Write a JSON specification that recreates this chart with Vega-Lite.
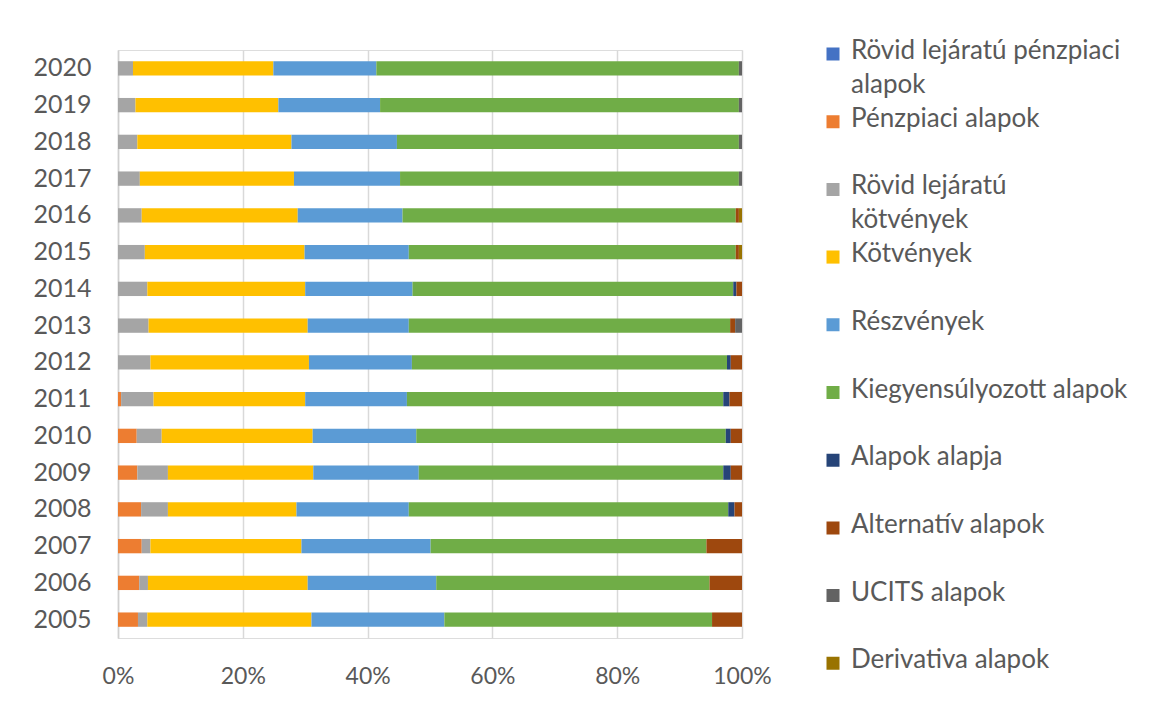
{
  "$schema": "https://vega.github.io/schema/vega-lite/v6.json",
  "width": 624,
  "height": 588,
  "autosize": {"type": "none"},
  "padding": {"left": 118, "top": 50, "right": 419, "bottom": 66},
  "background": "white",
  "data": {"values": [
    {"year": "2020", "cat": "Rövid lejáratú kötvények", "v": 2.4},
    {"year": "2020", "cat": "Kötvények", "v": 22.5},
    {"year": "2020", "cat": "Részvények", "v": 16.5},
    {"year": "2020", "cat": "Kiegyensúlyozott alapok", "v": 58.1},
    {"year": "2020", "cat": "UCITS alapok", "v": 0.5},
    {"year": "2019", "cat": "Rövid lejáratú kötvények", "v": 2.8},
    {"year": "2019", "cat": "Kötvények", "v": 22.9},
    {"year": "2019", "cat": "Részvények", "v": 16.3},
    {"year": "2019", "cat": "Kiegyensúlyozott alapok", "v": 57.5},
    {"year": "2019", "cat": "UCITS alapok", "v": 0.5},
    {"year": "2018", "cat": "Rövid lejáratú kötvények", "v": 3.1},
    {"year": "2018", "cat": "Kötvények", "v": 24.7},
    {"year": "2018", "cat": "Részvények", "v": 16.9},
    {"year": "2018", "cat": "Kiegyensúlyozott alapok", "v": 54.8},
    {"year": "2018", "cat": "UCITS alapok", "v": 0.5},
    {"year": "2017", "cat": "Rövid lejáratú kötvények", "v": 3.5},
    {"year": "2017", "cat": "Kötvények", "v": 24.7},
    {"year": "2017", "cat": "Részvények", "v": 17.0},
    {"year": "2017", "cat": "Kiegyensúlyozott alapok", "v": 54.3},
    {"year": "2017", "cat": "UCITS alapok", "v": 0.5},
    {"year": "2016", "cat": "Rövid lejáratú kötvények", "v": 3.8},
    {"year": "2016", "cat": "Kötvények", "v": 25.0},
    {"year": "2016", "cat": "Részvények", "v": 16.8},
    {"year": "2016", "cat": "Kiegyensúlyozott alapok", "v": 53.4},
    {"year": "2016", "cat": "Alternatív alapok", "v": 0.5},
    {"year": "2016", "cat": "Derivativa alapok", "v": 0.5},
    {"year": "2015", "cat": "Rövid lejáratú kötvények", "v": 4.3},
    {"year": "2015", "cat": "Kötvények", "v": 25.6},
    {"year": "2015", "cat": "Részvények", "v": 16.7},
    {"year": "2015", "cat": "Kiegyensúlyozott alapok", "v": 52.4},
    {"year": "2015", "cat": "Alternatív alapok", "v": 0.5},
    {"year": "2015", "cat": "Derivativa alapok", "v": 0.5},
    {"year": "2014", "cat": "Rövid lejáratú kötvények", "v": 4.7},
    {"year": "2014", "cat": "Kötvények", "v": 25.3},
    {"year": "2014", "cat": "Részvények", "v": 17.2},
    {"year": "2014", "cat": "Kiegyensúlyozott alapok", "v": 51.4},
    {"year": "2014", "cat": "Alapok alapja", "v": 0.5},
    {"year": "2014", "cat": "Alternatív alapok", "v": 0.9},
    {"year": "2013", "cat": "Rövid lejáratú kötvények", "v": 4.9},
    {"year": "2013", "cat": "Kötvények", "v": 25.5},
    {"year": "2013", "cat": "Részvények", "v": 16.2},
    {"year": "2013", "cat": "Kiegyensúlyozott alapok", "v": 51.5},
    {"year": "2013", "cat": "Alternatív alapok", "v": 0.8},
    {"year": "2013", "cat": "UCITS alapok", "v": 1.1},
    {"year": "2012", "cat": "Rövid lejáratú kötvények", "v": 5.2},
    {"year": "2012", "cat": "Kötvények", "v": 25.4},
    {"year": "2012", "cat": "Részvények", "v": 16.5},
    {"year": "2012", "cat": "Kiegyensúlyozott alapok", "v": 50.5},
    {"year": "2012", "cat": "Alapok alapja", "v": 0.6},
    {"year": "2012", "cat": "Alternatív alapok", "v": 1.8},
    {"year": "2011", "cat": "Pénzpiaci alapok", "v": 0.5},
    {"year": "2011", "cat": "Rövid lejáratú kötvények", "v": 5.2},
    {"year": "2011", "cat": "Kötvények", "v": 24.3},
    {"year": "2011", "cat": "Részvények", "v": 16.3},
    {"year": "2011", "cat": "Kiegyensúlyozott alapok", "v": 50.7},
    {"year": "2011", "cat": "Alapok alapja", "v": 1.0},
    {"year": "2011", "cat": "Alternatív alapok", "v": 2.0},
    {"year": "2010", "cat": "Pénzpiaci alapok", "v": 3.0},
    {"year": "2010", "cat": "Rövid lejáratú kötvények", "v": 4.0},
    {"year": "2010", "cat": "Kötvények", "v": 24.2},
    {"year": "2010", "cat": "Részvények", "v": 16.6},
    {"year": "2010", "cat": "Kiegyensúlyozott alapok", "v": 49.6},
    {"year": "2010", "cat": "Alapok alapja", "v": 0.8},
    {"year": "2010", "cat": "Alternatív alapok", "v": 1.8},
    {"year": "2009", "cat": "Pénzpiaci alapok", "v": 3.1},
    {"year": "2009", "cat": "Rövid lejáratú kötvények", "v": 4.9},
    {"year": "2009", "cat": "Kötvények", "v": 23.3},
    {"year": "2009", "cat": "Részvények", "v": 16.9},
    {"year": "2009", "cat": "Kiegyensúlyozott alapok", "v": 48.8},
    {"year": "2009", "cat": "Alapok alapja", "v": 1.2},
    {"year": "2009", "cat": "Alternatív alapok", "v": 1.8},
    {"year": "2008", "cat": "Pénzpiaci alapok", "v": 3.7},
    {"year": "2008", "cat": "Rövid lejáratú kötvények", "v": 4.3},
    {"year": "2008", "cat": "Kötvények", "v": 20.6},
    {"year": "2008", "cat": "Részvények", "v": 18.0},
    {"year": "2008", "cat": "Kiegyensúlyozott alapok", "v": 51.2},
    {"year": "2008", "cat": "Alapok alapja", "v": 1.0},
    {"year": "2008", "cat": "Alternatív alapok", "v": 1.2},
    {"year": "2007", "cat": "Pénzpiaci alapok", "v": 3.8},
    {"year": "2007", "cat": "Rövid lejáratú kötvények", "v": 1.4},
    {"year": "2007", "cat": "Kötvények", "v": 24.2},
    {"year": "2007", "cat": "Részvények", "v": 20.7},
    {"year": "2007", "cat": "Kiegyensúlyozott alapok", "v": 44.2},
    {"year": "2007", "cat": "Alternatív alapok", "v": 5.7},
    {"year": "2006", "cat": "Pénzpiaci alapok", "v": 3.4},
    {"year": "2006", "cat": "Rövid lejáratú kötvények", "v": 1.4},
    {"year": "2006", "cat": "Kötvények", "v": 25.6},
    {"year": "2006", "cat": "Részvények", "v": 20.6},
    {"year": "2006", "cat": "Kiegyensúlyozott alapok", "v": 43.8},
    {"year": "2006", "cat": "Alternatív alapok", "v": 5.2},
    {"year": "2005", "cat": "Pénzpiaci alapok", "v": 3.2},
    {"year": "2005", "cat": "Rövid lejáratú kötvények", "v": 1.5},
    {"year": "2005", "cat": "Kötvények", "v": 26.3},
    {"year": "2005", "cat": "Részvények", "v": 21.3},
    {"year": "2005", "cat": "Kiegyensúlyozott alapok", "v": 42.9},
    {"year": "2005", "cat": "Alternatív alapok", "v": 4.8}
  ]},
  "transform": [
    {"calculate": "indexof(['Rövid lejáratú pénzpiaci alapok', 'Pénzpiaci alapok', 'Rövid lejáratú kötvények', 'Kötvények', 'Részvények', 'Kiegyensúlyozott alapok', 'Alapok alapja', 'Alternatív alapok', 'UCITS alapok', 'Derivativa alapok'], datum.cat)", "as": "ord"}
  ],
  "mark": {"type": "bar", "strokeWidth": 0},
  "encoding": {
    "y": {
      "field": "year", "type": "ordinal",
      "sort": "descending",
      "scale": {"paddingInner": 0.61, "paddingOuter": 0.305},
      "axis": {
        "title": null, "ticks": false, "domain": true, "domainColor": "#d0d0d0", "domainWidth": 1.5,
        "labelFont": "Lato", "labelFontSize": 25, "labelColor": "#595959", "labelPadding": 27,
        "grid": false
      }
    },
    "x": {
      "field": "v", "type": "quantitative", "stack": "normalize",
      "scale": {"domain": [0, 1], "nice": false},
      "axis": {
        "title": null, "format": ".0%", "values": [0, 0.2, 0.4, 0.6, 0.8, 1],
        "ticks": false, "domain": false, "grid": true, "gridColor": "#d9d9d9", "gridWidth": 1.5,
        "labelFont": "Lato", "labelFontSize": 23, "labelColor": "#595959", "labelPadding": 27,
        "labelFlush": false
      }
    },
    "order": {"field": "ord", "type": "quantitative", "sort": "ascending"},
    "color": {
      "field": "cat", "type": "nominal",
      "sort": ["Rövid lejáratú pénzpiaci alapok", "Pénzpiaci alapok", "Rövid lejáratú kötvények", "Kötvények", "Részvények", "Kiegyensúlyozott alapok", "Alapok alapja", "Alternatív alapok", "UCITS alapok", "Derivativa alapok"],
      "scale": {
        "domain": ["Rövid lejáratú pénzpiaci alapok", "Pénzpiaci alapok", "Rövid lejáratú kötvények", "Kötvények", "Részvények", "Kiegyensúlyozott alapok", "Alapok alapja", "Alternatív alapok", "UCITS alapok", "Derivativa alapok"],
        "range": ["#4472C4", "#ED7D31", "#A5A5A5", "#FFC000", "#5B9BD5", "#70AD47", "#264478", "#9E480E", "#636363", "#997300"]
      },
      "legend": {
        "title": null, "orient": "none", "legendX": 702, "legendY": -12, "padding": 0,
        "symbolType": "square", "symbolSize": 169, "symbolStrokeWidth": 0, "symbolOpacity": 1,
        "labelFont": "Lato", "labelFontSize": 26, "labelColor": "#595959", "labelOffset": 5,
        "labelLimit": 400, "labelBaseline": "top",
        "clipHeight": 66, "rowPadding": 1.7,
        "labelExpr": "datum.label == 'Rövid lejáratú pénzpiaci alapok' ? ['Rövid lejáratú pénzpiaci', 'alapok'] : datum.label == 'Rövid lejáratú kötvények' ? ['Rövid lejáratú', 'kötvények'] : datum.label",
        "encode": {
          "symbols": {"update": {"y": {"value": 16}}},
          "labels": {"update": {"y": {"value": 16}, "dy": {"value": -16}, "lineHeight": {"value": 34}}}
        }
      }
    }
  }
}
